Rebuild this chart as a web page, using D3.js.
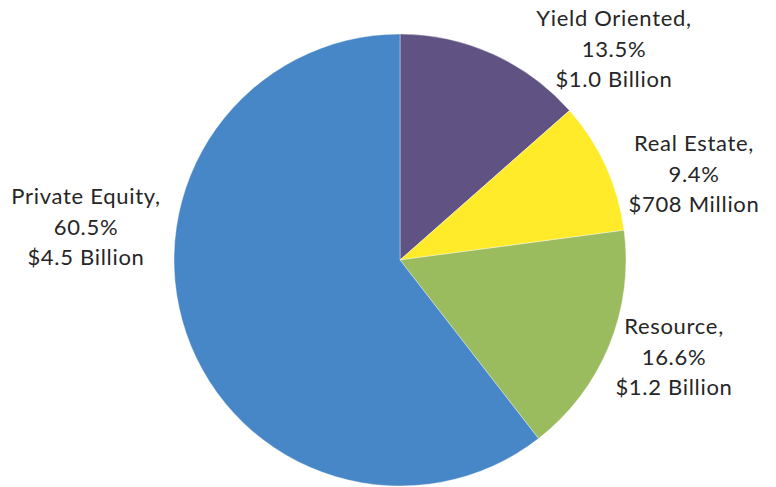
<!DOCTYPE html>
<html>
<head>
<meta charset="UTF-8">
<script src="https://cdn.jsdelivr.net/npm/d3@7"></script>
<style>
  body { margin: 0; background: #fff; }
  text { font-family: Lato, "Open Sans", sans-serif; fill: #262626; }
</style>
</head>
<body>
<script>
  // slices, clockwise from 12 o'clock
  var names = ['Yield Oriented', 'Real Estate', 'Resource', 'Private Equity'];
  var shares = [13.5, 9.4, 16.6, 60.5];
  var amounts = ['$1.0 Billion', '$708 Million', '$1.2 Billion', '$4.5 Billion'];
  var colors = ['#605283', '#FFEB29', '#9BBB5F', '#4787C7'];

  // label anchor points (centre x, first baseline y)
  var labelPos = [[614, 26], [694, 151], [674, 334], [86, 204]];

  var width = 776, height = 487,
      cx = 400, cy = 260, radius = 226;

  var svg = d3.select('body').append('svg')
    .attr('width', width)
    .attr('height', height);

  var pie = d3.pie().sort(null).value(function(d) { return d; });
  var arc = d3.arc().innerRadius(0).outerRadius(radius);

  var g = svg.append('g')
    .attr('transform', 'translate(' + cx + ',' + cy + ')');

  g.selectAll('path')
    .data(pie(shares))
    .enter()
    .append('path')
    .attr('d', arc)
    .attr('fill', function(d, i) { return colors[i]; })
    .attr('stroke', '#fff')
    .attr('stroke-opacity', 0.5)
    .attr('stroke-width', 0.75);

  var labels = svg.selectAll('text.lbl')
    .data(names)
    .enter()
    .append('text')
    .attr('class', 'lbl')
    .attr('text-anchor', 'middle')
    .attr('font-size', 22)
    .attr('letter-spacing', 0.7)
    .attr('x', function(d, i) { return labelPos[i][0]; })
    .attr('y', function(d, i) { return labelPos[i][1]; });

  labels.each(function(d, i) {
    var t = d3.select(this);
    var lines = [d + ',', shares[i].toFixed(1) + '%', amounts[i]];
    lines.forEach(function(l, j) {
      t.append('tspan')
        .attr('x', labelPos[i][0])
        .attr('dy', j == 0 ? 0 : 30.5)
        .text(l);
    });
  });
</script>
</body>
</html>
